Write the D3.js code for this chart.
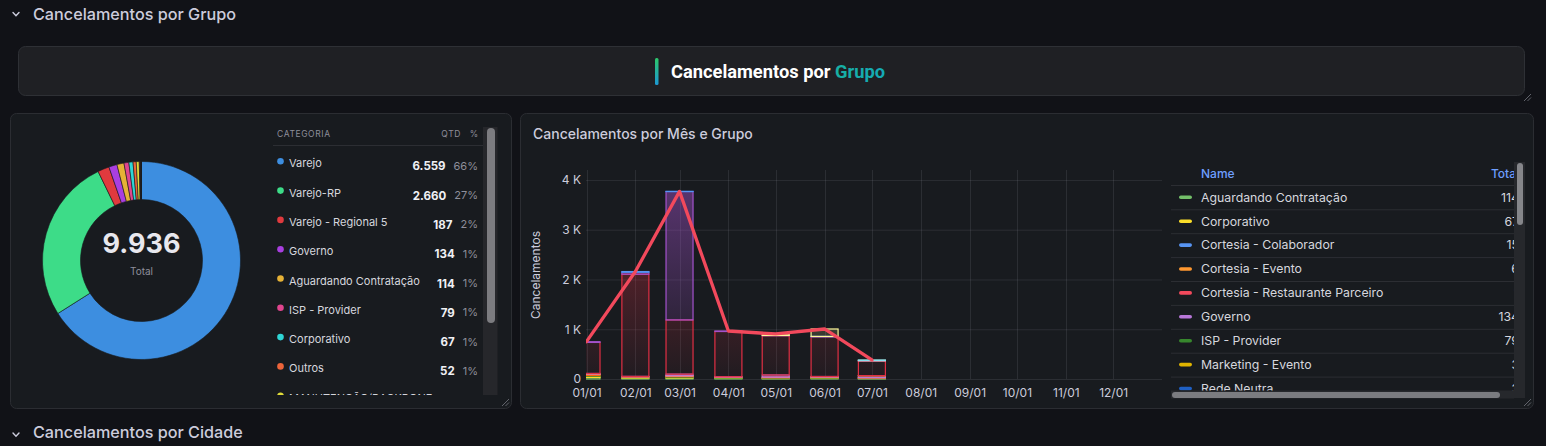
<!DOCTYPE html>
<html><head><meta charset="utf-8">
<script src="https://cdn.jsdelivr.net/npm/d3@7"></script>
<style>
html,body{margin:0;padding:0;background:#111217;overflow:hidden}
svg{display:block;font-family:Inter,"Noto Sans",sans-serif}
</style>
</head><body>
<svg id="c" width="1546" height="446"></svg>
<script>
// ---------- Donut data ----------
const donutCategories = ["Varejo","Varejo-RP","Varejo - Regional 5","Governo","Aguardando Contratação","ISP - Provider","Corporativo","Outros","MANUTENÇÃO/BACKBONE","Cortesia - Colaborador","Sem Grupo","Cortesia - Evento","Marketing - Evento","Rede Neutra","Cortesia - Restaurante Parceiro"];
const donutValues = [6559,2660,187,134,114,79,67,52,48,15,8,6,3,3,1];
const donutColors = ["#3d8ee0","#3ddc88","#e03a3e","#a93fe0","#e6b236","#e0458e","#2fd6d6","#ec643a","#e0dc3a","#b8542a","#7a4aa0","#d07a30","#9a6a20","#3a5ab0","#a03030"];

// ---------- Time series data ----------
const monthDates = ["2025-01-01","2025-02-01","2025-03-01","2025-04-01","2025-05-01","2025-06-01","2025-07-01"];
const tickDates = ["2025-01-01","2025-02-01","2025-03-01","2025-04-01","2025-05-01","2025-06-01","2025-07-01","2025-08-01","2025-09-01","2025-10-01","2025-11-01","2025-12-01"];
const yTicks = [0,1000,2000,3000,4000];
const yTickLabels = ["0","1 K","2 K","3 K","4 K"];

const sAguardando   = [30,15,20,15,10,14,10];
const sCorporativo  = [25,12,10,5,5,5,5];
const sIsp          = [15,10,15,14,10,10,5];
const sOutros       = [20,5,10,3,5,5,4];
const sManutencao   = [8,5,10,5,10,5,5];
const sCortEvento   = [3,0,2,0,0,1,0];
const sGoverno      = [10,5,30,4,40,10,35];
const sMarketing    = [0,0,0,0,0,0,3];
const sRestaurante  = [0,0,0,0,0,0,1];
const sVarejo       = [624,2054,1090,909,790,798,294];
const sVarejoRP     = [15,40,2580,10,5,5,5];
const sRedeNeutra   = [0,1,1,0,0,1,0];
const sColaborador  = [0,12,2,0,0,1,0];
const sRegional5    = [0,0,0,0,30,150,7];
const sSemGrupo     = [0,0,0,0,0,0,8];

const seriesNames = ["Aguardando Contratação","Corporativo","ISP - Provider","Outros","MANUTENÇÃO/BACKBONE","Cortesia - Evento","Governo","Marketing - Evento","Cortesia - Restaurante Parceiro","Varejo","Varejo-RP","Rede Neutra","Cortesia - Colaborador","Varejo - Regional 5","Sem Grupo"];
const seriesValues = [sAguardando,sCorporativo,sIsp,sOutros,sManutencao,sCortEvento,sGoverno,sMarketing,sRestaurante,sVarejo,sVarejoRP,sRedeNeutra,sColaborador,sRegional5,sSemGrupo];
const seriesColors = ["#73BF69","#FADE2A","#37872D","#FA6400","#FF7383","#FF9830","#B877D9","#E0B400","#F2495C","#E02F44","#A352CC","#1F60C4","#5794F2","#FFF899","#8AE0F0"];
const legendOrder = ["Aguardando Contratação","Corporativo","Cortesia - Colaborador","Cortesia - Evento","Cortesia - Restaurante Parceiro","Governo","ISP - Provider","Marketing - Evento","Rede Neutra","Outros","Sem Grupo","Varejo"];

// ---------- helpers ----------
const svg = d3.select("#c");
const br = d3.formatLocale({decimal:",",thousands:".",grouping:[3],currency:["R$",""]});
const fmtInt = br.format(",d");
const TXT = "#ccccdc", MUTED = "#8e8e9a", PANEL = "#181b1f", BORDER = "#2b2d32";
const defs = svg.append("defs");

svg.append("rect").attr("width",1546).attr("height",446).attr("fill","#111217");

function chevron(x,y){
  svg.append("path").attr("d",`M${x},${y} L${x+3},${y+3.2} L${x+6},${y}`)
    .attr("fill","none").attr("stroke",TXT).attr("stroke-width",1.4).attr("stroke-linecap","round");
}
function resizeHandle(x,y){
  const g = svg.append("g").attr("stroke","#6b6d75").attr("stroke-width",0.9);
  g.append("line").attr("x1",x-7).attr("y1",y).attr("x2",x).attr("y2",y-7);
  g.append("line").attr("x1",x-3.5).attr("y1",y).attr("x2",x).attr("y2",y-3.5);
}

// ---------- Row headers ----------
chevron(13,12.5);
svg.append("text").attr("x",33).attr("y",20).attr("font-size",16.2).attr("font-weight",500).attr("fill",TXT).text("Cancelamentos por Grupo");
chevron(13,433);
svg.append("text").attr("x",33).attr("y",438).attr("font-size",16.2).attr("font-weight",500).attr("fill",TXT).text("Cancelamentos por Cidade");

// ---------- Title panel ----------
svg.append("rect").attr("x",18.5).attr("y",46.5).attr("width",1506).attr("height",49).attr("rx",7)
  .attr("fill","#1f2024").attr("stroke","#2e3035");
resizeHandle(1531,101);
const gBar = defs.append("linearGradient").attr("id","gBar").attr("x1",0).attr("x2",0).attr("y1",0).attr("y2",1);
gBar.append("stop").attr("offset",0).attr("stop-color","#2cc86a");
gBar.append("stop").attr("offset",1).attr("stop-color","#1c98d4");
const gTxt = defs.append("linearGradient").attr("id","gTxt").attr("x1",0).attr("x2",1).attr("y1",0).attr("y2",0);
gTxt.append("stop").attr("offset",0).attr("stop-color","#22c55e");
gTxt.append("stop").attr("offset",1).attr("stop-color","#14aab8");
svg.append("rect").attr("x",655).attr("y",58).attr("width",3.5).attr("height",27).attr("rx",1.5).attr("fill","url(#gBar)");
const ttl = svg.append("text").attr("x",671).attr("y",77.5).attr("font-family","Roboto, Inter, sans-serif").attr("font-size",18.3).attr("font-weight",700);
ttl.append("tspan").attr("fill","#ffffff").text("Cancelamentos por ");
ttl.append("tspan").attr("fill","url(#gTxt)").text("Grupo");

// ---------- Left panel ----------
svg.append("rect").attr("x",10.5).attr("y",113.5).attr("width",501).attr("height",295).attr("rx",6)
  .attr("fill",PANEL).attr("stroke",BORDER);
resizeHandle(509,406);

const total = d3.sum(donutValues);
const pie = d3.pie().sort(null).value(d=>d)(donutValues);
const arc = d3.arc().innerRadius(61).outerRadius(99);
const gd = svg.append("g").attr("transform","translate(141.5,260.5)");
gd.selectAll("path").data(pie).join("path").attr("d",arc)
  .attr("fill",(d,i)=>donutColors[i]).attr("stroke","#181b1f").attr("stroke-width",0.6);
gd.append("text").attr("text-anchor","middle").attr("y",-8).attr("font-size",27).attr("font-weight",700)
  .attr("fill","#e8e8ee").text(fmtInt(total));
gd.append("text").attr("text-anchor","middle").attr("y",14).attr("font-size",10).attr("fill",MUTED).text("Total");

// table header
svg.append("text").attr("x",277).attr("y",136.5).attr("font-size",8.5).attr("letter-spacing",0.6).attr("fill",MUTED).text("CATEGORIA");
svg.append("text").attr("x",461).attr("y",136.5).attr("text-anchor","end").attr("font-size",8.5).attr("letter-spacing",0.6).attr("fill",MUTED).text("QTD");
svg.append("text").attr("x",478).attr("y",136.5).attr("text-anchor","end").attr("font-size",8.5).attr("fill",MUTED).text("%");
svg.append("line").attr("x1",273).attr("x2",483).attr("y1",145.5).attr("y2",145.5).attr("stroke","#2c2e33");

defs.append("clipPath").attr("id","clipTbl").append("rect").attr("x",270).attr("y",146).attr("width",213).attr("height",249);
const gt = svg.append("g").attr("clip-path","url(#clipTbl)");
const rowY = d3.scaleLinear().domain([0,1]).range([163.3,192.6]);
donutCategories.forEach((name,i)=>{
  const cy = rowY(i);
  if (cy - 8 > 395) return; // row lies entirely below the scroll area
  gt.append("circle").attr("cx",280.5).attr("cy",cy-2).attr("r",3.3).attr("fill",donutColors[i]);
  gt.append("text").attr("x",289).attr("y",cy+4).attr("font-size",11).attr("fill","#d6d7de").text(name);
  if (cy + 6 > 395) return;
  const pct = gt.append("text").attr("x",478).attr("y",cy+6.5).attr("text-anchor","end").attr("font-size",11)
    .attr("fill",MUTED).text(Math.round(donutValues[i]/total*100)+"%");
  const w = pct.node().getComputedTextLength();
  gt.append("text").attr("x",478-w-8).attr("y",cy+7).attr("text-anchor","end").attr("font-size",11.5).attr("font-weight",700)
    .attr("fill","#f0f0f4").text(fmtInt(donutValues[i]));
});
// scrollbar
svg.append("rect").attr("x",483).attr("y",127).attr("width",14.5).attr("height",268).attr("fill","#26272b");
svg.append("rect").attr("x",487).attr("y",128).attr("width",8).attr("height",195).attr("rx",4).attr("fill","#7c7c80");

// ---------- Right panel ----------
svg.append("rect").attr("x",520.5).attr("y",113.5).attr("width",1013).attr("height",295).attr("rx",6)
  .attr("fill",PANEL).attr("stroke",BORDER);
resizeHandle(1531,406);
svg.append("text").attr("x",533).attr("y",139).attr("font-size",14).attr("font-weight",500).attr("fill",TXT).text("Cancelamentos por Mês e Grupo");

const parse = d3.utcParse("%Y-%m-%d");
const x = d3.scaleUtc().domain([parse("2025-01-01"),parse("2026-01-01")]).range([586.5,1162]);
const y = d3.scaleLinear().domain([0,4200]).range([379,170]);
const gridC = "rgba(204,204,220,0.11)";

const gg = svg.append("g");
gg.selectAll("line.h").data(yTicks).join("line").attr("x1",586).attr("x2",1162)
  .attr("y1",d=>y(d)+0.5).attr("y2",d=>y(d)+0.5).attr("stroke",gridC);
gg.selectAll("line.v").data(tickDates).join("line").attr("y1",170).attr("y2",379)
  .attr("x1",d=>Math.round(x(parse(d)))+0.5).attr("x2",d=>Math.round(x(parse(d)))+0.5).attr("stroke",gridC);

const xAxis = d3.axisBottom(x).tickValues(tickDates.map(parse)).tickFormat(d3.utcFormat("%m/%d")).tickSize(0).tickPadding(9);
const gx = svg.append("g").attr("transform","translate(0,379)").call(xAxis);
gx.select(".domain").remove();
gx.selectAll("text").attr("font-size",12).attr("fill",TXT).attr("font-family","Inter, sans-serif");

const yAxis = d3.axisLeft(y).tickValues(yTicks).tickFormat((d,i)=>yTickLabels[i]).tickSize(0).tickPadding(5);
const gy = svg.append("g").attr("transform","translate(586,0)").call(yAxis);
gy.select(".domain").remove();
gy.selectAll("text").attr("font-size",12).attr("fill",TXT).attr("font-family","Inter, sans-serif");

svg.append("text").attr("transform","translate(540,275) rotate(-90)").attr("text-anchor","middle")
  .attr("font-size",12).attr("fill",TXT).text("Cancelamentos");

// gradients per series
seriesColors.forEach((c,i)=>{
  const g = defs.append("linearGradient").attr("id","sg"+i).attr("gradientUnits","userSpaceOnUse")
    .attr("x1",0).attr("x2",0).attr("y1",y(4200)).attr("y2",y(0));
  g.append("stop").attr("offset",0).attr("stop-color",c).attr("stop-opacity",0.5);
  g.append("stop").attr("offset",1).attr("stop-color",c).attr("stop-opacity",0.04);
});

const rows = monthDates.map((m,j)=>{ const r={date:parse(m)}; seriesValues.forEach((s,i)=>r[i]=s[j]); return r; });
const stack = d3.stack().keys(seriesNames.map((n,i)=>i))(rows);
defs.append("clipPath").attr("id","clipPlot").append("rect").attr("x",586).attr("y",160).attr("width",576).attr("height",222);
const gb = svg.append("g").attr("clip-path","url(#clipPlot)");
const barW = 27;
stack.forEach((layer,i)=>{
  gb.append("g").selectAll("rect").data(layer.filter(d=>d[1]>d[0])).join("rect")
    .attr("x",d=>x(d.data.date)-barW/2).attr("width",barW)
    .attr("y",d=>y(d[1])).attr("height",d=>Math.max(0.01,y(d[0])-y(d[1])))
    .attr("fill","url(#sg"+i+")").attr("stroke",seriesColors[i]).attr("stroke-width",1.2);
});
const totals = monthDates.map((m,j)=>d3.sum(seriesValues,s=>s[j]));
const line = d3.line().x((d,j)=>x(parse(monthDates[j]))).y(d=>y(d));
gb.append("path").datum(totals).attr("d",line).attr("fill","none").attr("stroke","#F2495C")
  .attr("stroke-width",3.3).attr("stroke-linejoin","round").attr("stroke-linecap","round");

// legend table
const lx0 = 1171, lx1 = 1514;
defs.append("clipPath").attr("id","clipLeg").append("rect").attr("x",lx0).attr("y",160).attr("width",lx1-lx0).attr("height",231);
const gl = svg.append("g").attr("clip-path","url(#clipLeg)");
gl.append("text").attr("x",1201).attr("y",178).attr("font-size",12).attr("font-weight",500).attr("fill","#6E9FFF").text("Name");
gl.append("text").attr("x",1519).attr("y",178).attr("text-anchor","end").attr("font-size",12).attr("font-weight",500).attr("fill","#6E9FFF").text("Total");
const legY = d3.scaleLinear().domain([0,1]).range([197.3,221.2]);
gl.append("line").attr("x1",lx0).attr("x2",lx1).attr("y1",185.5).attr("y2",185.5).attr("stroke","#2c2e33");
legendOrder.forEach((name,k)=>{
  const i = seriesNames.indexOf(name);
  const cy = legY(k);
  if (cy - 8 > 391) return; // hidden below the scroll area
  gl.append("rect").attr("x",1179).attr("y",cy-1.8).attr("width",13).attr("height",3.6).attr("rx",1.8).attr("fill",seriesColors[i]);
  gl.append("text").attr("x",1201).attr("y",cy+4.3).attr("font-size",12.3).attr("fill","#d6d7de").text(name);
  gl.append("text").attr("x",1519).attr("y",cy+4.3).attr("text-anchor","end").attr("font-size",12.3).attr("fill","#d6d7de")
    .text(fmtInt(d3.sum(seriesValues[i])));
  gl.append("line").attr("x1",lx0).attr("x2",lx1).attr("y1",cy+12.5).attr("y2",cy+12.5).attr("stroke","#2c2e33");
});
// scrollbars
svg.append("rect").attr("x",1514).attr("y",162).attr("width",11).attr("height",236).attr("fill","#26282c");
svg.append("rect").attr("x",1517).attr("y",163).attr("width",6).attr("height",62).attr("rx",3).attr("fill","#85868a");
svg.append("rect").attr("x",1171).attr("y",390.5).attr("width",343).attr("height",8).attr("fill","#26282c");
svg.append("rect").attr("x",1172).attr("y",392).attr("width",328).attr("height",6).attr("rx",3).attr("fill","#7b7c80");
</script>
</body></html>
